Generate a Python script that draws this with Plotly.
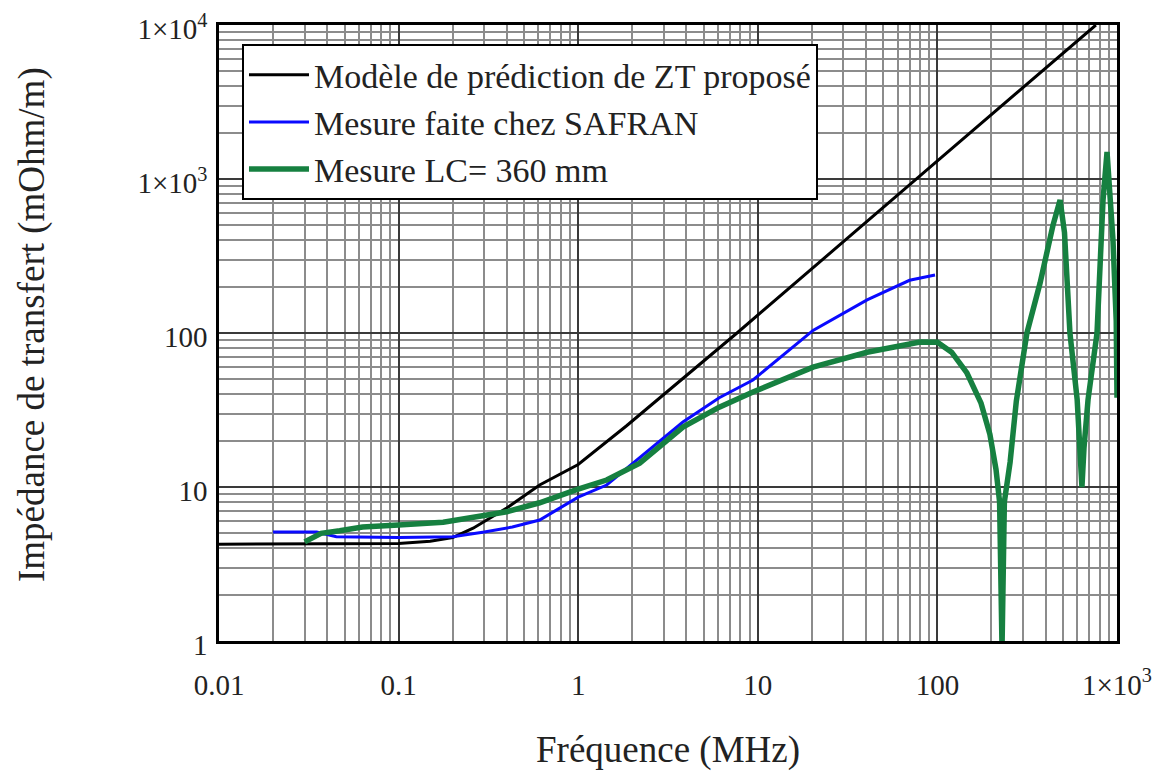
import plotly.graph_objects as go

# ---- data ----
freq_model = [0.01, 0.1, 0.15, 0.2, 0.26, 0.4, 0.61, 1.0, 1.86, 7.66, 100, 763]
z_model = [4.25, 4.3, 4.45, 4.7, 5.4, 7.3, 10.3, 14.0, 25.0, 100, 1310, 10000]

freq_safran = [0.02, 0.035, 0.045, 0.1, 0.2, 0.3, 0.43, 0.61, 0.76, 1.0, 1.44, 2.2,
               3.83, 6.1, 9.4, 20.3, 40.6, 70, 97]
z_safran = [5.1, 5.1, 4.75, 4.7, 4.75, 5.1, 5.5, 6.1, 7.1, 8.6, 10.3, 15.4,
            26.4, 38, 49.5, 104, 164, 220, 238]

freq_lc = [0.03, 0.037, 0.047, 0.063, 0.1, 0.177, 0.4, 0.61, 0.98, 1.44, 2.2, 3.83,
           6.1, 9.4, 20.3, 40.6, 80, 100, 120, 146, 175, 196, 212, 222, 229, 236,
           254, 275, 315, 373, 440, 482, 510, 547, 600, 625, 638, 655, 690, 774,
           836, 880, 950, 990, 1000]
z_lc = [4.4, 5.0, 5.2, 5.5, 5.66, 5.9, 6.9, 7.9, 9.6, 11.1, 14.3, 24.5,
        33, 41.4, 60, 75, 87.5, 87, 75, 55, 35, 22, 13, 8, 0.9, 8,
        14.5, 36, 100, 211, 500, 730, 450, 100, 37, 15, 10, 18, 37, 100,
        730, 1500, 400, 120, 38]

names = ["Modèle de prédiction de ZT proposé", "Mesure faite chez SAFRAN", "Mesure LC= 360 mm"]

x_tickvals = [0.01, 0.1, 1, 10, 100, 1000]
x_ticktext = ["0.01", "0.1", "1", "10", "100", "1×10<sup>3</sup>"]
y_tickvals = [1, 10, 100, 1000, 10000]
y_ticktext = ["1", "10", "100", "1×10<sup>3</sup>", "1×10<sup>4</sup>"]

x_minor = [d * m for d in [0.01, 0.1, 1, 10, 100] for m in range(2, 10)]
y_minor = [d * m for d in [1, 10, 100, 1000] for m in range(2, 10)]

FONT = "Liberation Serif"

fig = go.Figure()
fig.add_trace(go.Scatter(x=freq_model, y=z_model, mode="lines", name=names[0],
                         line=dict(color="#000000", width=3)))
fig.add_trace(go.Scatter(x=freq_safran, y=z_safran, mode="lines", name=names[1],
                         line=dict(color="#0a0aff", width=3)))
fig.add_trace(go.Scatter(x=freq_lc, y=z_lc, mode="lines", name=names[2],
                         line=dict(color="#168040", width=5.5)))

axis_common = dict(
    type="log", automargin=False, ticklabeloverflow="allow",
    showline=True, linecolor="#000000", linewidth=2.5, mirror=True,
    showgrid=True, gridcolor="#3a3a3a", gridwidth=2,
    ticks="", tickfont=dict(family=FONT, size=29, color="#222222"),
    zeroline=False,
)

fig.update_xaxes(
    **axis_common,
    range=[-2, 3],
    tickmode="array", tickvals=x_tickvals, ticktext=x_ticktext,
    ticklabelstandoff=16,
    minor=dict(tickmode="array", tickvals=x_minor, showgrid=True,
               gridcolor="#8c8c8c", gridwidth=1.5, ticks=""),
)
fig.update_yaxes(
    **axis_common,
    range=[0, 4],
    tickmode="array", tickvals=y_tickvals, ticktext=y_ticktext,
    ticklabelstandoff=3, ticklabelshift=4,
    minor=dict(tickmode="array", tickvals=y_minor, showgrid=True,
               gridcolor="#8c8c8c", gridwidth=1.5, ticks=""),
)

# the page body adds an 8px offset, margins compensate for it
fig.update_layout(
    width=1157, height=770,
    margin=dict(l=211, r=48, t=17, b=137, autoexpand=False),
    paper_bgcolor="white", plot_bgcolor="white",
    font=dict(family=FONT, color="#222222"),
    legend=dict(
        x=0.0256, y=0.969, xanchor="left", yanchor="top",
        bgcolor="white", bordercolor="#000000", borderwidth=2,
        font=dict(family=FONT, size=34, color="#222222"),
        itemwidth=60,
    ),
    showlegend=True,
    annotations=[
        dict(text="Fréquence (MHz)", xref="paper", yref="paper",
             x=0.5, y=(641 - 750) / 616, xanchor="center", yanchor="middle",
             showarrow=False, font=dict(family=FONT, size=37, color="#222222")),
        dict(text="Impédance de transfert (mOhm/m)", xref="paper", yref="paper",
             x=(32 - 219) / 898, y=(641 - 325) / 616, xanchor="center", yanchor="middle",
             textangle=-90, showarrow=False,
             font=dict(family=FONT, size=37, color="#222222")),
    ],
)

fig.write_html("out.html")
